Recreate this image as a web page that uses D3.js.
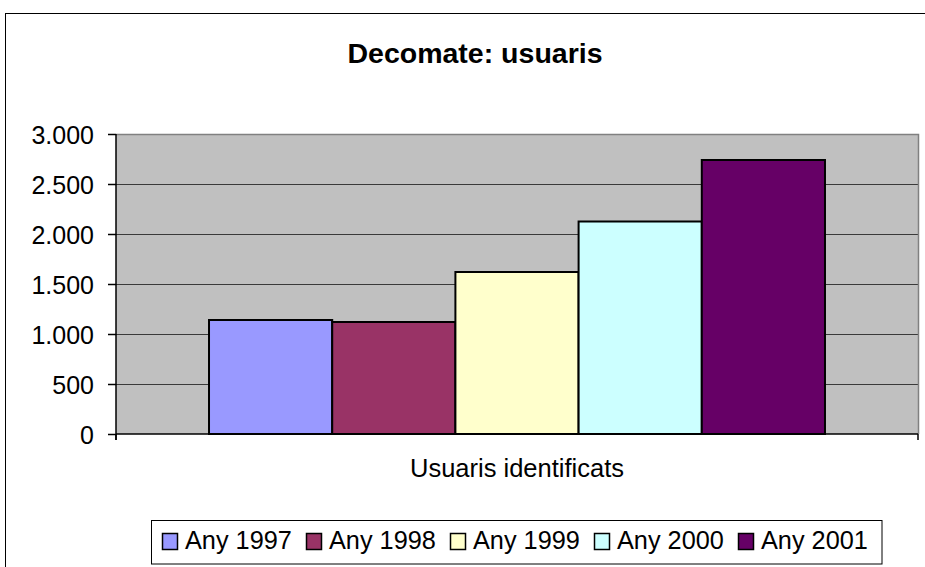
<!DOCTYPE html>
<html>
<head>
<meta charset="utf-8">
<script src="https://cdn.jsdelivr.net/npm/d3@7"></script>
<style>
  html, body { margin: 0; padding: 0; background: #fff; }
  svg { display: block; font-family: "Liberation Sans", Arial, sans-serif; }
</style>
</head>
<body>
<svg id="chart" width="925" height="567"></svg>
<script>
const title = "Decomate: usuaris";
const categories = ["Usuaris identificats"];
const seriesNames = ["Any 1997", "Any 1998", "Any 1999", "Any 2000", "Any 2001"];
const seriesValues = [1140, 1120, 1620, 2125, 2740];
const seriesColors = ["#9999FF", "#993366", "#FFFFCC", "#CCFFFF", "#660066"];
const yTicks = [0, 500, 1000, 1500, 2000, 2500, 3000];
const yTickLabels = ["0", "500", "1.000", "1.500", "2.000", "2.500", "3.000"];

const svg = d3.select("#chart");
const plot = { left: 116, right: 918, top: 134, bottom: 434 };
const FONT = "'Liberation Sans', Arial, sans-serif";

// outer chart border
svg.append("rect")
  .attr("x", 5.5).attr("y", 13.5)
  .attr("width", 960).attr("height", 600)
  .attr("fill", "#fff").attr("stroke", "#000").attr("stroke-width", 1);

// title
svg.append("text")
  .attr("x", 475).attr("y", 63)
  .attr("text-anchor", "middle")
  .attr("font-size", 28.5).attr("font-weight", "bold")
  .text(title);

const y = d3.scaleLinear().domain([0, 3000]).range([plot.bottom, plot.top]);
const x0 = d3.scaleBand().domain(categories).range([plot.left, plot.right])
  .paddingInner(0).paddingOuter(0.151);
const x1 = d3.scaleBand().domain(seriesNames).range([0, x0.bandwidth()]).padding(0);

// plot background
svg.append("rect")
  .attr("x", plot.left).attr("y", plot.top)
  .attr("width", plot.right - plot.left).attr("height", plot.bottom - plot.top)
  .attr("fill", "#C0C0C0");

// gridlines
svg.append("g").selectAll("line")
  .data(yTicks.filter(d => d > 0 && d < 3000))
  .join("line")
  .attr("x1", plot.left).attr("x2", plot.right)
  .attr("y1", d => Math.round(y(d)) + 0.5).attr("y2", d => Math.round(y(d)) + 0.5)
  .attr("stroke", "#3a3a3a").attr("stroke-width", 1);

// plot border top/right (gray)
svg.append("path")
  .attr("d", `M${plot.left},${plot.top + 0.5}H${plot.right + 0.5}V${plot.bottom}`)
  .attr("fill", "none").attr("stroke", "#808080").attr("stroke-width", 1.5);

// bars
const g = svg.append("g");
categories.forEach(cat => {
  g.selectAll(null)
    .data(seriesValues.map((v, i) => ({ name: seriesNames[i], value: v, color: seriesColors[i] })))
    .join("rect")
    .attr("x", d => x0(cat) + x1(d.name))
    .attr("y", d => y(d.value))
    .attr("width", x1.bandwidth())
    .attr("height", d => plot.bottom - y(d.value))
    .attr("fill", d => d.color)
    .attr("stroke", "#000").attr("stroke-width", 2);
});

// y axis
const yAxis = d3.axisLeft(y).tickValues(yTicks)
  .tickFormat((d, i) => yTickLabels[i]).tickSize(8).tickPadding(14);
const ya = svg.append("g").attr("transform", `translate(${plot.left},0)`).call(yAxis);
ya.attr("font-size", null).attr("font-family", null);
ya.select(".domain").attr("stroke", "#000").attr("stroke-width", 1.5)
  .attr("d", `M0,${plot.top}V${plot.bottom + 6}`);
ya.selectAll(".tick line").attr("stroke", "#000").attr("stroke-width", 1.5);
ya.selectAll(".tick text").attr("font-size", 25).attr("fill", "#000")
  .attr("font-family", FONT).attr("dy", "0.36em");

// x axis
const xa = svg.append("g");
xa.append("line")
  .attr("x1", plot.left).attr("x2", plot.right)
  .attr("y1", plot.bottom).attr("y2", plot.bottom)
  .attr("stroke", "#000").attr("stroke-width", 1.5);
xa.selectAll("line.xt").data([plot.left, plot.right]).join("line")
  .attr("class", "xt")
  .attr("x1", d => d).attr("x2", d => d)
  .attr("y1", plot.bottom).attr("y2", plot.bottom + 6)
  .attr("stroke", "#000").attr("stroke-width", 1.5);
xa.selectAll("text").data(categories).join("text")
  .attr("x", d => x0(d) + x0.bandwidth() / 2)
  .attr("y", 477)
  .attr("text-anchor", "middle")
  .attr("font-size", 25.5)
  .text(d => d);

// legend
const legend = svg.append("g");
legend.append("rect")
  .attr("x", 151.5).attr("y", 520.5)
  .attr("width", 730.5).attr("height", 43.5)
  .attr("fill", "#fff").attr("stroke", "#000").attr("stroke-width", 1);
const legendX = [162, 306, 450, 594, 738];
seriesNames.forEach((name, i) => {
  legend.append("rect")
    .attr("x", legendX[i] + 0.5).attr("y", 533.5)
    .attr("width", 15).attr("height", 16)
    .attr("fill", seriesColors[i]).attr("stroke", "#000").attr("stroke-width", 1.5);
  legend.append("text")
    .attr("x", legendX[i] + 23).attr("y", 549)
    .attr("font-size", 25.3)
    .text(name);
});
</script>
</body>
</html>
